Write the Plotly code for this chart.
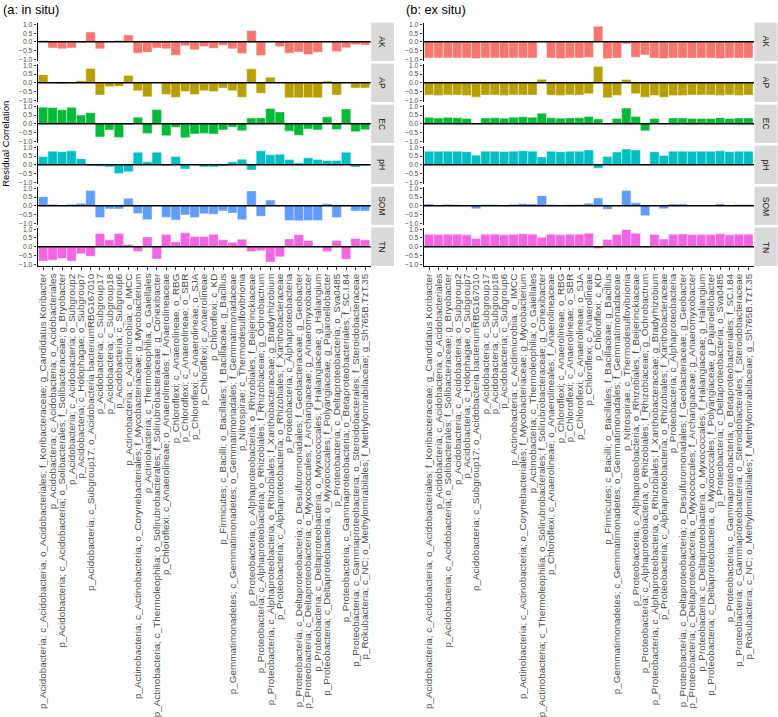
import plotly.graph_objects as go

W, H = 778, 717

taxa = [
    "p_Acidobacteria; c_Acidobacteria; o_Acidobacteriales; f_Koribacteraceae; g_Candidatus Koribacter",
    "p_Acidobacteria; c_Acidobacteria; o_Acidobacteriales",
    "p_Acidobacteria; c_Acidobacteria; o_Solibacterales; f_Solibacteraceae; g_Bryobacter",
    "p_Acidobacteria; c_Acidobacteria; o_Subgroup2",
    "p_Acidobacteria; c_Holophagae; o_Subgroup7",
    "p_Acidobacteria; c_Subgroup17; o_Acidobacteria bacteriumRBG167010",
    "p_Acidobacteria; c_Subgroup17",
    "p_Acidobacteria; c_Subgroup18",
    "p_Acidobacteria; c_Subgroup6",
    "p_Actinobacteria; c_Acidimicrobiia; o_IMCC",
    "p_Actinobacteria; c_Actinobacteria; o_Corynebacteriales; f_Mycobacteriaceae; g_Mycobacterium",
    "p_Actinobacteria; c_Thermoleophilia; o_Gaiellales",
    "p_Actinobacteria; c_Thermoleophilia; o_Solirubrobacterales; f_Solirubrobacteraceae; g_Conexibacter",
    "p_Chloroflexi; c_Anaerolineae; o_Anaerolineales; f_Anaerolineaceae",
    "p_Chloroflexi; c_Anaerolineae; o_RBG",
    "p_Chloroflexi; c_Anaerolineae; o_SBR",
    "p_Chloroflexi; c_Anaerolineae; o_SJA",
    "p_Chloroflexi; c_Anaerolineae",
    "p_Chloroflexi; c_KD",
    "p_Firmicutes; c_Bacilli; o_Bacillales; f_Bacillaceae; g_Bacillus",
    "p_Gemmatimonadetes; c_Gemmatimonadetes; o_Gemmatimonadales; f_Gemmatimonadaceae",
    "p_Nitrospirae; c_Thermodesulfovibrionia",
    "p_Proteobacteria; c_Alphaproteobacteria; o_Rhizobiales; f_Beijerinckiaceae",
    "p_Proteobacteria; c_Alphaproteobacteria; o_Rhizobiales; f_Rhizobiaceae; g_Ochrobactrum",
    "p_Proteobacteria; c_Alphaproteobacteria; o_Rhizobiales; f_Xanthobacteraceae; g_Bradyrhizobium",
    "p_Proteobacteria; c_Alphaproteobacteria; o_Rhizobiales; f_Xanthobacteraceae",
    "p_Proteobacteria; c_Alphaproteobacteria",
    "p_Proteobacteria; c_Deltaproteobacteria; o_Desulfuromonadales; f_Geobacteraceae; g_Geobacter",
    "p_Proteobacteria; c_Deltaproteobacteria; o_Myxococcales; f_Archangiaceae; g_Anaeromyxobacter",
    "p_Proteobacteria; c_Deltaproteobacteria; o_Myxococcales; f_Haliangiaceae; g_Haliangium",
    "p_Proteobacteria; c_Deltaproteobacteria; o_Myxococcales; f_Polyangiaceae; g_Pajaroellobacter",
    "p_Proteobacteria; c_Deltaproteobacteria; o_Sva0485",
    "p_Proteobacteria; c_Gammaproteobacteria; o_Betaproteobacteriales; f_SC.I.84",
    "p_Proteobacteria; c_Gammaproteobacteria; o_Steroidobacterales; f_Steroidobacteraceae",
    "p_Rokubacteria; c_NC; o_Methylomirabilales; f_Methylomirabilaceae; g_Sh765B.TzT.35",
]

variables = ["AK", "AP", "EC", "pH", "SOM", "TN"]
var_colors = ["#F8766D", "#B79F00", "#00BA38", "#00BFC4", "#619CFF", "#F564E3"]

# (a: in situ)
insitu_AK = [0.08, -0.35, -0.40, -0.35, -0.06, 0.56, -0.40, -0.04, 0.08, 0.40, -0.65, -0.60, -0.35, -0.40, -0.77,
             -0.22, -0.45, -0.26, -0.37, -0.19, -0.40, -0.67, 0.65, -0.78, None, -0.28, -0.65, -0.58, -0.73, -0.60,
             -0.04, -0.56, -0.34, -0.16, -0.18]
insitu_AP = [0.47, None, -0.05, 0.03, 0.12, 0.82, -0.70, -0.22, -0.20, 0.42, -0.45, -0.80, None, -0.67, -0.83,
             -0.50, -0.67, -0.45, -0.50, -0.30, -0.45, -0.83, 0.80, -0.60, 0.32, None, -0.85, -0.85, -0.85, -0.85,
             0.10, -0.70, None, -0.30, -0.30]
insitu_EC = [0.95, 0.93, 0.80, 0.95, 0.50, 0.63, -0.75, -0.35, -0.78, -0.06, 0.38, -0.55, 0.82, -0.68, -0.20,
             -0.80, -0.58, -0.55, -0.58, -0.35, -0.18, -0.40, 0.33, 0.34, 0.88, 0.68, -0.42, -0.66, -0.30, -0.35,
             0.40, -0.33, 0.85, -0.45, -0.34]
insitu_pH = [0.47, 0.78, 0.75, 0.80, 0.35, -0.05, -0.08, -0.12, -0.50, -0.40, 0.72, 0.17, 0.72, -0.05, 0.47,
             -0.24, None, -0.12, -0.12, -0.07, 0.17, 0.32, -0.30, 0.80, 0.57, 0.60, 0.30, 0.10, 0.40, 0.30,
             0.25, 0.25, 0.72, -0.13, -0.05]
insitu_SOM = [0.52, 0.09, None, 0.08, 0.15, 0.87, -0.68, -0.19, -0.19, 0.43, -0.44, -0.80, None, -0.66, -0.82,
              -0.53, -0.67, -0.46, -0.48, -0.30, -0.42, -0.80, 0.85, -0.60, 0.33, 0.03, -0.84, -0.86, -0.84, -0.84,
              0.12, -0.67, None, -0.30, -0.30]
insitu_TN = [-0.82, -0.77, -0.67, -0.82, -0.40, -0.55, 0.76, 0.40, 0.76, 0.13, -0.28, 0.56, -0.70, 0.70, 0.28,
             0.80, 0.58, 0.58, 0.72, 0.40, 0.26, 0.43, -0.28, -0.23, -0.87, -0.58, 0.45, 0.69, 0.35, None,
             -0.28, 0.36, -0.72, 0.47, 0.40]

# (b: ex situ)
exsitu_AK = [-0.92, -0.92, -0.92, -0.92, -0.92, -0.96, -0.92, -0.92, -0.93, -0.92, -0.92, -0.92, None, -0.92, -0.95,
             -0.92, -0.92, -0.90, 0.90, -0.95, -0.93, -0.12, -0.88, -0.75, -0.93, -0.95, -0.93, -0.93, -0.93, -0.93,
             -0.93, -0.95, -0.93, -0.93, -0.93]
exsitu_AP = [-0.70, -0.72, -0.70, -0.70, -0.72, -0.82, -0.70, -0.70, -0.72, -0.70, -0.70, -0.70, 0.20, -0.70, -0.73,
             -0.70, -0.70, -0.62, 0.93, -0.85, -0.72, 0.19, -0.62, -0.82, -0.72, -0.83, -0.72, -0.72, -0.70, -0.70,
             -0.70, -0.72, -0.70, -0.72, -0.70]
exsitu_EC = [0.37, 0.33, 0.37, 0.35, 0.30, None, 0.33, 0.35, 0.32, 0.38, 0.40, 0.38, 0.60, 0.35, 0.32,
             0.34, 0.35, 0.42, 0.28, None, 0.30, 0.90, 0.42, -0.40, 0.30, None, 0.33, 0.33, 0.30, 0.30,
             0.30, 0.35, 0.30, 0.33, 0.33]
exsitu_pH = [0.78, 0.77, 0.78, 0.78, 0.75, 0.55, 0.78, 0.78, 0.76, 0.78, 0.80, 0.78, 0.45, 0.78, 0.75,
             0.77, 0.78, 0.85, -0.20, 0.48, 0.73, 0.90, 0.85, None, 0.75, 0.53, 0.78, 0.78, 0.77, 0.77,
             0.77, 0.80, 0.75, 0.78, 0.78]
exsitu_SOM = [0.10, 0.05, 0.08, 0.06, 0.02, -0.17, 0.07, 0.07, 0.03, 0.08, 0.13, 0.10, 0.58, 0.07, 0.01,
              0.06, 0.07, 0.15, 0.45, -0.20, 0.03, 0.88, 0.17, -0.57, 0.04, -0.17, 0.10, 0.10, 0.05, 0.05,
              0.05, 0.12, 0.02, 0.07, 0.07]
exsitu_TN = [0.72, 0.70, 0.72, 0.72, 0.68, 0.47, 0.72, 0.72, 0.68, 0.72, 0.75, 0.72, 0.55, 0.72, 0.68,
             0.71, 0.72, 0.77, -0.10, 0.42, 0.70, 0.98, 0.77, -0.03, 0.70, 0.45, 0.72, 0.73, 0.70, 0.70,
             0.70, 0.75, 0.68, 0.72, 0.72]

y_tickvals = [-1.0, -0.5, 0.0, 0.5, 1.0]
y_ticktext = ["\u22121.0", "\u22120.5", "0.0", "0.5", "1.0"]

panels = [
    {"title": "(a: in situ)", "title_x": 1,
     "series": [insitu_AK, insitu_AP, insitu_EC, insitu_pH, insitu_SOM, insitu_TN],
     "plot": (37.5, 370.7), "strip": (371.2, 394.0)},
    {"title": "(b: ex situ)", "title_x": 404,
     "series": [exsitu_AK, exsitu_AP, exsitu_EC, exsitu_pH, exsitu_SOM, exsitu_TN],
     "plot": (423.5, 754.0), "strip": (754.5, 777.5)},
]

FONT = "Liberation Sans, Arial, Helvetica, sans-serif"
ROW0, ROWSTEP, HALF = 43.7, 44.92, 21.05

fig = go.Figure()
layout = dict(
    width=W, height=H, autosize=False,
    margin=dict(l=0, r=0, t=0, b=0, pad=0),
    paper_bgcolor="white", plot_bgcolor="white",
    showlegend=False, font=dict(family=FONT, color="#4D4D4D"),
)
shapes, annotations = [], []

for p, panel in enumerate(panels):
    xname = "x" if p == 0 else "x2"
    xkey = "xaxis" if p == 0 else "xaxis2"
    x0px, x1px = panel["plot"]
    bottom_y = None
    for r, var in enumerate(variables):
        n = p * 6 + r + 1
        yname = "y" if n == 1 else f"y{n}"
        ykey = "yaxis" if n == 1 else f"yaxis{n}"
        top = ROW0 + ROWSTEP * r - HALF
        bot = ROW0 + ROWSTEP * r + HALF
        dom = [1 - bot / H, 1 - top / H]
        layout[ykey] = dict(
            domain=dom, anchor=xname, range=[-1.1, 1.1],
            tickmode="array", tickvals=y_tickvals, ticktext=y_ticktext,
            showgrid=False, zeroline=False,
            showline=True, linecolor="black", linewidth=1.2,
            ticks="outside", ticklen=2.7, tickwidth=1, tickcolor="#333333",
            tickfont=dict(size=6.8, color="#4D4D4D", family=FONT),
            fixedrange=True,
        )
        bottom_y = yname
        fig.add_trace(go.Bar(
            x=taxa, y=panel["series"][r], xaxis=xname, yaxis=yname,
            width=1.0,
            marker=dict(color=var_colors[r], line=dict(color="rgba(255,255,255,0.55)", width=0.8)),
            hoverinfo="skip", showlegend=False,
        ))
        shapes.append(dict(type="line", xref=f"{xname} domain", x0=0, x1=1, yref=yname, y0=0, y1=0,
                           line=dict(color="black", width=1.5)))
        s0, s1 = panel["strip"]
        shapes.append(dict(type="rect", xref="paper", yref="paper",
                           x0=s0 / W, x1=s1 / W, y0=dom[0], y1=dom[1],
                           fillcolor="#D9D9D9", line=dict(width=0), layer="below"))
        annotations.append(dict(xref="paper", yref="paper", x=(s0 + s1) / 2 / W, y=(dom[0] + dom[1]) / 2,
                                text=var, textangle=90, showarrow=False,
                                font=dict(size=8.5, color="#1A1A1A", family=FONT),
                                xanchor="center", yanchor="middle"))
    layout[xkey] = dict(
        domain=[x0px / W, x1px / W], anchor=bottom_y, type="category",
        categoryorder="array", categoryarray=taxa, range=[-0.6, 34.6],
        tickmode="linear", tick0=0, dtick=1, tickangle=-90,
        showgrid=False, zeroline=False,
        showline=True, linecolor="black", linewidth=1.2,
        ticks="outside", ticklen=2.7, tickwidth=1, tickcolor="#333333",
        tickfont=dict(size=9.9, color="#4D4D4D", family=FONT),
        fixedrange=True,
    )
    annotations.append(dict(xref="paper", yref="paper", x=panel["title_x"] / W, y=1 - 8.5 / H,
                            text=panel["title"], showarrow=False, xanchor="left", yanchor="middle",
                            font=dict(size=12.8, color="black", family=FONT)))

annotations.append(dict(xref="paper", yref="paper", x=5.5 / W, y=1 - 156 / H,
                        text="Residual Correlation", textangle=-90, showarrow=False,
                        xanchor="center", yanchor="middle",
                        font=dict(size=9.5, color="black", family=FONT)))

layout["shapes"] = shapes
layout["annotations"] = annotations
fig.update_layout(**layout)

fig.write_html(
    "out.html",
    config={"displayModeBar": False},
    post_script="document.body.style.margin='0px';document.body.style.padding='0px';"
                "document.body.style.overflow='hidden';",
)
